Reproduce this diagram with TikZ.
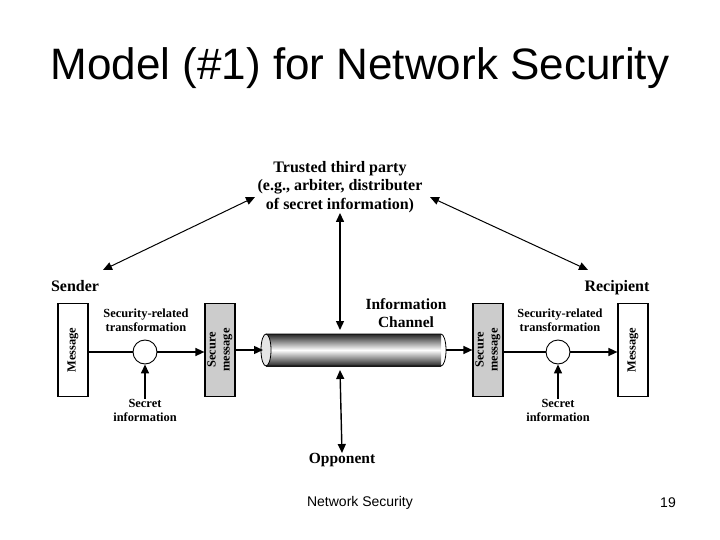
\documentclass[tikz,border=0pt]{standalone}
\usepackage{fontspec}
\setmainfont{Liberation Serif}
\newfontfamily\arialfont{Liberation Sans}
\usetikzlibrary{arrows.meta}

\tikzset{
    lbl/.style={font=\fontsize{12.4}{14}\selectfont\bfseries, align=center, inner sep=0pt},
    big/.style={lbl, font=\fontsize{15.5}{18}\selectfont\bfseries},
    box/.style={draw, line width=1.2pt, minimum width=30pt, minimum height=93pt, inner sep=0pt},
    xform/.style={draw, circle, line width=0.9pt, minimum size=24pt, inner sep=0pt, fill=white},
    flow/.style={line width=1.4pt, -{Triangle[length=9pt,width=8pt]}},
    both/.style={line width=1.4pt, {Triangle[length=9pt,width=8pt]}-{Triangle[length=9pt,width=8pt]}}
}

\begin{document}
\begin{tikzpicture}[x=1pt,y=-1pt]
    \useasboundingbox (0,0) rectangle (720,540);

    \node[font=\arialfont\fontsize{44}{48}\selectfont] (title) at (360,68) {Model (\#1) for Network Security};

    % trusted third party
    \node[big, font=\fontsize{16}{18.5}\selectfont\bfseries] (ttp) at (340,187)
        {Trusted third party\\(e.g., arbiter, distributer\\of secret information)};
    \node[big, font=\fontsize{16}{18}\selectfont\bfseries, anchor=base] (sender) at (75,291) {Sender};
    \node[big, font=\fontsize{16}{18}\selectfont\bfseries, anchor=base] (recip) at (617,291) {Recipient};
    \coordinate (ttpl) at (255,197);
    \coordinate (ttpr) at (430,197);
    \coordinate (sendr) at (103,270);
    \coordinate (recipl) at (588,270);
    \draw[both, line width=1pt] (sendr) -- (ttpl);
    \draw[both, line width=1pt] (ttpr) -- (recipl);

    % sender side
    \node[box] (msgl) at (73,350) {};
    \node[rotate=90, lbl] at (msgl) {Message};
    \node[box, fill=black!20] (secl) at (220,350) {};
    \node[rotate=90, lbl] at (secl) {Secure\\message};
    \node[xform] (trl) at (145,352) {};
    \node[lbl] (trltxt) at (146,320) {Security-related\\transformation};
    \node[lbl] (sil) at (145,410) {Secret\\information};

    % receiver side
    \node[box, fill=black!20] (secr) at (488,350) {};
    \node[rotate=90, lbl] at (secr) {Secure\\message};
    \node[box] (msgr) at (633,350) {};
    \node[rotate=90, lbl] at (msgr) {Message};
    \node[xform] (trr) at (558,352) {};
    \node[lbl] (trrtxt) at (560,320) {Security-related\\transformation};
    \node[lbl] (sir) at (558,410) {Secret\\information};

    % channel
    \shade[top color=black!85, bottom color=black!85, middle color=white]
        (266,334) rectangle (441,366);
    \draw[line width=0.8pt] (266,334) -- (441,334) arc[start angle=-90, end angle=90, x radius=5, y radius=16] -- (266,366);
    \draw[line width=0.8pt, fill=black!10] (266,350) ellipse[x radius=5, y radius=16];
    \coordinate (chl) at (263,350);
    \coordinate (chr) at (446,350);
    \coordinate (cht) at (340,330);
    \coordinate (chb) at (340,370);
    \node[big] (chtxt) at (406,313) {Information\\Channel};
    \node[big] (opp) at (342,460) {Opponent};

    % flows
    \draw[line width=1.4pt] (msgl.east |- trl) -- (trl);
    \draw[flow] (trl) -- (secl.west |- trl);
    \draw[flow] (secl.east |- chl) -- (chl);
    \draw[flow] (chr) -- (secr.west |- chr);
    \draw[line width=1.4pt] (secr.east |- trr) -- (trr);
    \draw[flow] (trr) -- (msgr.west |- trr);
    \draw[flow] (sil.north) -- (trl.south);
    \draw[flow] (sir.north) -- (trr.south);
    \draw[both] (ttp.south) -- (cht);
    \draw[both] (opp.north) -- (chb);

    % footer
    \node[font=\arialfont\fontsize{14}{16}\selectfont] (foot) at (360,503) {Network Security};
    \node[font=\arialfont\fontsize{14}{16}\selectfont] (page) at (668,503) {19};
\end{tikzpicture}
\end{document}
